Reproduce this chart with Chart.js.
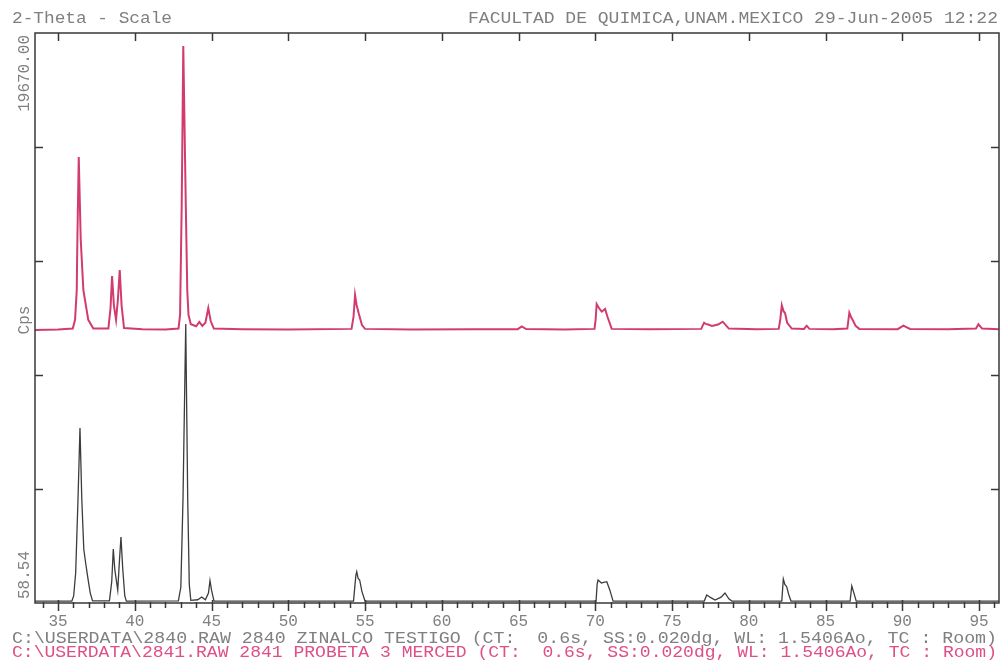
<!DOCTYPE html>
<html>
<head>
<meta charset="utf-8">
<script src="https://cdn.jsdelivr.net/npm/chart.js@4.4.1/dist/chart.umd.min.js"></script>
<style>
  html, body { margin: 0; padding: 0; background: #ffffff; }
  #wrap { width: 1001px; height: 660px; }
</style>
</head>
<body>
<div id="wrap"><canvas id="xrd" width="1001" height="660"></canvas></div>
<script>
// 2-theta range and intensity range (Cps)
const twoThetaMin = 33.5;
const twoThetaMax = 96.3;
const cpsMin = 58.54;
const cpsMax = 19670.00;

// axis ticks
const thetaMajorTicks = [35, 40, 45, 50, 55, 60, 65, 70, 75, 80, 85, 90, 95];
const thetaMinorTicks = [34, 36, 37, 38, 39, 41, 42, 43, 44, 46, 47, 48, 49, 51, 52, 53, 54, 56, 57, 58, 59,
  61, 62, 63, 64, 66, 67, 68, 69, 71, 72, 73, 74, 76, 77, 78, 79, 81, 82, 83, 84, 86, 87, 88, 89, 91, 92, 93, 94, 96];
const cpsTicks = [58.54, 3980.83, 7903.12, 11825.41, 15747.71, 19670.00];

// 2841 PROBETA 3 MERCED (plotted with offset above 2840)
const mercedTheta = [33.5, 35.0, 35.96, 36.11, 36.22, 36.26, 36.35, 36.48, 36.65, 36.97, 37.3,
  38.28, 38.42, 38.52, 38.64, 38.78, 38.9, 39.02, 39.14, 39.3,
  40.5, 42.0, 42.85, 42.95, 43.06, 43.16, 43.32, 43.42, 43.5, 43.65,
  44.0, 44.2, 44.4, 44.6, 44.79, 44.95, 45.15,
  47.0, 50.0, 54.12, 54.25, 54.35, 54.45, 54.6, 54.8, 55.0,
  58.0, 62.0, 64.95, 65.21, 65.5,
  68.0, 69.95, 70.02, 70.09, 70.25, 70.42, 70.64, 70.8, 71.07,
  73.5, 76.9, 77.09, 77.2, 77.35, 77.6, 78.0, 78.3, 78.7,
  80.5, 81.95, 82.05, 82.15, 82.26, 82.36, 82.5, 82.8,
  83.6, 83.77, 83.95, 85.5, 86.42, 86.55, 86.66, 86.77, 86.95, 87.2,
  89.7, 90.07, 90.5, 93.0, 94.8, 94.96, 95.2, 96.3];
const mercedCps = [9450, 9470, 9500, 9800, 10830, 12550, 15400, 12550, 10830, 9800, 9500,
  9500, 10200, 11310, 10300, 9800, 10500, 11516, 10300, 9520,
  9480, 9470, 9500, 9970, 13855, 19222, 13855, 10800, 9970, 9650,
  9580, 9727, 9590, 9700, 10208, 9750, 9500,
  9480, 9470, 9490, 9900, 10655, 10311, 10000, 9623, 9490,
  9470, 9480, 9480, 9572, 9485,
  9470, 9490, 9800, 10346, 10200, 10081, 10174, 9900, 9490,
  9480, 9490, 9703, 9660, 9640, 9589, 9640, 9737, 9500,
  9480, 9490, 9800, 10301, 10100, 10036, 9700, 9500,
  9490, 9599, 9490, 9480, 9500, 10046, 9900, 9795, 9600, 9490,
  9480, 9599, 9490, 9480, 9500, 9647, 9500, 9480];

// 2840 ZINALCO TESTIGO
const testigoTheta = [33.5, 35.9, 36.02, 36.15, 36.3, 36.43, 36.55, 36.68, 36.8, 36.95, 37.1, 37.25,
  38.35, 38.5, 38.6, 38.7, 38.89, 39.0, 39.1, 39.22, 39.35, 39.45,
  42.84, 43.0, 43.14, 43.32, 43.45, 43.55, 43.65,
  44.1, 44.36, 44.6, 44.8, 44.9, 45.0, 45.16,
  54.25, 54.4, 54.46, 54.55, 54.65, 54.8, 55.0,
  70.05, 70.12, 70.18, 70.4, 70.55, 70.75, 70.95, 71.16,
  77.1, 77.26, 77.5, 77.8, 78.2, 78.45, 78.7, 78.9,
  82.15, 82.25, 82.35, 82.47, 82.6, 82.75,
  86.6, 86.71, 86.85, 87.0, 96.3];
const testigoCps = [120, 125, 300, 1100, 3600, 6079, 3600, 1900, 1435, 900, 400, 130,
  130, 800, 1916, 1200, 506, 1500, 2329, 1200, 300, 125,
  130, 600, 3600, 9658, 3600, 700, 150,
  170, 265, 170, 400, 826, 500, 125,
  125, 1000, 1135, 900, 850, 450, 125,
  125, 700, 850, 746, 770, 791, 500, 125,
  125, 333, 250, 160, 260, 402, 200, 125,
  125, 884, 700, 619, 350, 125,
  125, 643, 400, 125, 125];

const textGrey = '#7f7f7f';
const textRed = '#de4f86';
const monoFont = '"Liberation Mono", "DejaVu Sans Mono", monospace';

function toPoints(xs, ys) {
  return xs.map((x, i) => ({ x: x, y: ys[i] }));
}

// draws a line of text squeezed/stretched to a given width
function fitText(ctx, text, x, y, width, size) {
  ctx.save();
  ctx.font = size + 'px ' + monoFont;
  const w = ctx.measureText(text).width;
  ctx.translate(x, y);
  ctx.scale(width / w, 1);
  ctx.textAlign = 'left';
  ctx.textBaseline = 'alphabetic';
  ctx.fillText(text, 0, 0);
  ctx.restore();
}

const framePlugin = {
  id: 'frame',
  afterDatasetsDraw(chart) {
    const ctx = chart.ctx;
    const a = chart.chartArea;
    const xs = chart.scales.x;
    const ys = chart.scales.y;
    ctx.save();
    ctx.strokeStyle = '#383838';
    ctx.lineWidth = 1.5;
    ctx.strokeRect(a.left, a.top, a.right - a.left, a.bottom - a.top);
    ctx.beginPath();
    thetaMajorTicks.forEach(v => {
      const px = Math.round(xs.getPixelForValue(v)) + 0.5;
      ctx.moveTo(px, a.bottom - 3);
      ctx.lineTo(px, a.bottom + 8);
      ctx.moveTo(px, a.top);
      ctx.lineTo(px, a.top + 8);
    });
    thetaMinorTicks.forEach(v => {
      const px = Math.round(xs.getPixelForValue(v)) + 0.5;
      ctx.moveTo(px, a.bottom - 1);
      ctx.lineTo(px, a.bottom + 5);
    });
    cpsTicks.slice(1, -1).forEach(v => {
      const py = Math.round(ys.getPixelForValue(v)) + 0.5;
      ctx.moveTo(a.left, py);
      ctx.lineTo(a.left + 8, py);
      ctx.moveTo(a.right, py);
      ctx.lineTo(a.right - 8, py);
    });
    ctx.stroke();
    ctx.restore();
  },
  afterDraw(chart) {
    const ctx = chart.ctx;
    const a = chart.chartArea;
    ctx.save();
    ctx.fillStyle = textGrey;
    fitText(ctx, '2-Theta - Scale', 12, 23, 160, 16);
    fitText(ctx, 'FACULTAD DE QUIMICA,UNAM.MEXICO 29-Jun-2005 12:22', 468, 23, 530, 16);
    fitText(ctx, 'C:\\USERDATA\\2840.RAW 2840 ZINALCO TESTIGO (CT:  0.6s, SS:0.020dg, WL: 1.5406Ao, TC : Room)', 12, 643, 985, 16);
    ctx.fillStyle = textRed;
    fitText(ctx, 'C:\\USERDATA\\2841.RAW 2841 PROBETA 3 MERCED (CT:  0.6s, SS:0.020dg, WL: 1.5406Ao, TC : Room)', 12, 657, 985, 16);

    // vertical intensity labels
    ctx.fillStyle = textGrey;
    ctx.font = '16px ' + monoFont;
    ctx.textBaseline = 'alphabetic';
    const drawV = (text, y, align) => {
      ctx.save();
      ctx.translate(29, y);
      ctx.rotate(-Math.PI / 2);
      ctx.textAlign = align;
      ctx.fillText(text, 0, 0);
      ctx.restore();
    };
    drawV(cpsMax.toFixed(2), a.top + 2, 'right');
    drawV('Cps', (a.top + a.bottom) / 2 + 2, 'center');
    drawV(cpsMin.toFixed(2), a.bottom - 4, 'left');
    ctx.restore();
  }
};

new Chart(document.getElementById('xrd'), {
  type: 'line',
  data: {
    datasets: [
      {
        label: '2841 PROBETA 3 MERCED',
        data: toPoints(mercedTheta, mercedCps),
        borderColor: '#d23c6c',
        borderWidth: 2,
        pointRadius: 0,
        tension: 0
      },
      {
        label: '2840 ZINALCO TESTIGO',
        data: toPoints(testigoTheta, testigoCps),
        borderColor: '#3c3c3c',
        borderWidth: 1.3,
        pointRadius: 0,
        tension: 0
      }
    ]
  },
  options: {
    responsive: false,
    animation: false,
    devicePixelRatio: 1,
    layout: { padding: { top: 33, right: 2, left: 0, bottom: 0 } },
    plugins: { legend: { display: false }, tooltip: { enabled: false } },
    scales: {
      x: {
        type: 'linear',
        min: twoThetaMin,
        max: twoThetaMax,
        afterBuildTicks: s => { s.ticks = thetaMajorTicks.map(v => ({ value: v })); },
        afterFit: s => { s.height = 57; },
        grid: { display: false, drawTicks: false },
        border: { display: false },
        ticks: {
          autoSkip: false,
          maxRotation: 0,
          padding: 9,
          color: textGrey,
          font: { family: monoFont, size: 16 }
        }
      },
      y: {
        type: 'linear',
        min: cpsMin,
        max: cpsMax,
        afterBuildTicks: s => { s.ticks = cpsTicks.map(v => ({ value: v })); },
        afterFit: s => { s.width = 35; },
        grid: { display: false, drawTicks: false },
        border: { display: false },
        ticks: { display: false }
      }
    }
  },
  plugins: [framePlugin]
});
</script>
</body>
</html>
